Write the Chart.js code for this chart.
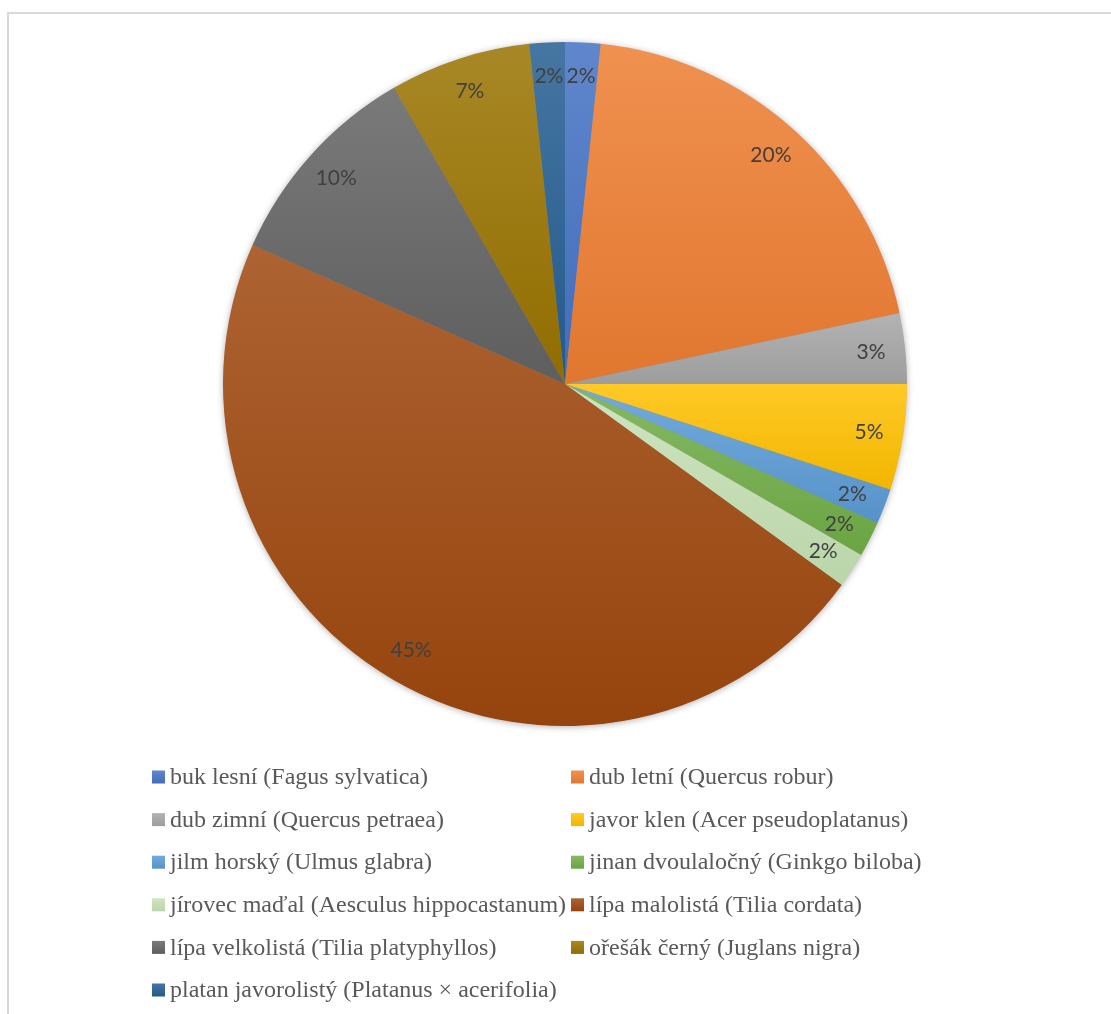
<!DOCTYPE html>
<html>
<head>
<meta charset="utf-8">
<script src="https://cdn.jsdelivr.net/npm/chart.js@4"></script>
<style>
  html, body { margin: 0; padding: 0; background: #fff; overflow: hidden; }
  #wrap { position: relative; width: 1111px; height: 1014px; }
  #frame { position: absolute; left: 7px; top: 12px; width: 1200px; height: 1100px; border: 2px solid #d9d9d9; box-sizing: border-box; }
  canvas { position: absolute; left: 0; top: 0; }
</style>
</head>
<body>
<div id="wrap">
  <div id="frame"></div>
  <canvas id="pieChart" width="1111" height="1014"></canvas>
</div>
<script>
const speciesLabels = [
  'buk lesní (Fagus sylvatica)',
  'dub letní (Quercus robur)',
  'dub zimní (Quercus petraea)',
  'javor klen (Acer pseudoplatanus)',
  'jilm horský (Ulmus glabra)',
  'jinan dvoulaločný (Ginkgo biloba)',
  'jírovec maďal (Aesculus hippocastanum)',
  'lípa malolistá (Tilia cordata)',
  'lípa velkolistá (Tilia platyphyllos)',
  'ořešák černý (Juglans nigra)',
  'platan javorolistý (Platanus × acerifolia)'
];
const treeCounts = [1, 12, 2, 3, 1, 1, 1, 28, 6, 4, 1];
const percentLabels = ['2%', '20%', '3%', '5%', '2%', '2%', '2%', '45%', '10%', '7%', '2%'];
const sliceColors = ['#4472C4', '#ED7D31', '#A5A5A5', '#FFC000', '#5B9BD5', '#70AD47',
  '#C5E0B4', '#9E480E', '#636363', '#997300', '#255E91'];

function mix(hex, target, t) {
  const n = parseInt(hex.slice(1), 16);
  const c = [(n >> 16) & 255, (n >> 8) & 255, n & 255];
  const out = c.map(v => Math.round(v + (target - v) * t));
  return `rgb(${out[0]},${out[1]},${out[2]})`;
}

function vGradient(ctx, color, y0, y1) {
  const g = ctx.createLinearGradient(0, y0, 0, y1);
  g.addColorStop(0, mix(color, 255, 0.15));
  g.addColorStop(1, mix(color, 0, 0.05));
  return g;
}

// shadow + per-slice vertical gradient (Excel look)
const sliceStyle = {
  id: 'sliceStyle',
  beforeDatasetsDraw(chart) {
    const ctx = chart.ctx;
    const arcs = chart.getDatasetMeta(0).data;
    if (!arcs.length) return;
    const { x, y, outerRadius } = arcs[0].getProps(['x', 'y', 'outerRadius'], true);

    ctx.save();
    ctx.shadowColor = 'rgba(0,0,0,0.35)';
    ctx.shadowBlur = 7;
    ctx.shadowOffsetY = 1;
    ctx.fillStyle = '#888';
    ctx.beginPath();
    ctx.arc(x, y, outerRadius - 0.5, 0, Math.PI * 2);
    ctx.fill();
    ctx.restore();

    arcs.forEach((arc, i) => {
      const p = arc.getProps(['x', 'y', 'startAngle', 'endAngle', 'outerRadius'], true);
      const ys = [p.y, p.y + p.outerRadius * Math.sin(p.startAngle), p.y + p.outerRadius * Math.sin(p.endAngle)];
      [-Math.PI / 2, Math.PI / 2, Math.PI * 1.5].forEach(a => {
        if (a > p.startAngle && a < p.endAngle) ys.push(p.y + p.outerRadius * Math.sin(a));
      });
      const grad = vGradient(ctx, sliceColors[i], Math.min(...ys), Math.max(...ys));
      arc.options = Object.assign({}, arc.options, { backgroundColor: grad });
    });
  },
  afterDatasetsDraw(chart) {
    const ctx = chart.ctx;
    const arcs = chart.getDatasetMeta(0).data;
    ctx.save();
    ctx.font = '21px Lato, "Noto Sans", sans-serif';
    ctx.fillStyle = '#404040';
    ctx.textAlign = 'center';
    ctx.textBaseline = 'middle';
    arcs.forEach((arc, i) => {
      const p = arc.getProps(['x', 'y', 'startAngle', 'endAngle', 'outerRadius'], true);
      const mid = (p.startAngle + p.endAngle) / 2;
      const r = p.outerRadius * 0.9;
      ctx.fillText(percentLabels[i], p.x + Math.cos(mid) * r, p.y + Math.sin(mid) * r);
    });
    ctx.restore();
  }
};

// two-column legend under the pie
const gridLegend = {
  id: 'gridLegend',
  afterDraw(chart) {
    const ctx = chart.ctx;
    const colX = [152, 571];
    const rowY0 = 777, rowStep = 42.6, box = 13;
    ctx.save();
    ctx.font = '24px "Liberation Serif", "Times New Roman", serif';
    ctx.textBaseline = 'middle';
    ctx.textAlign = 'left';
    speciesLabels.forEach((label, i) => {
      const bx = colX[i % 2];
      const by = rowY0 + Math.floor(i / 2) * rowStep;
      ctx.fillStyle = vGradient(ctx, sliceColors[i], by - box / 2, by + box / 2);
      ctx.fillRect(bx, by - box / 2, box, box);
      ctx.fillStyle = '#595959';
      ctx.fillText(label, bx + 18, by + 1);
    });
    ctx.restore();
  }
};

const ctx = document.getElementById('pieChart').getContext('2d');
const pieChart = new Chart(ctx, {
  type: 'pie',
  data: {
    labels: speciesLabels,
    datasets: [{
      data: treeCounts,
      backgroundColor: sliceColors,
      borderWidth: 0
    }]
  },
  options: {
    responsive: false,
    animation: false,
    layout: { padding: { left: 19, right: 0, top: 42, bottom: 288 } },
    plugins: {
      legend: { display: false },
      tooltip: { enabled: false }
    }
  },
  plugins: [sliceStyle, gridLegend]
});
</script>
</body>
</html>
